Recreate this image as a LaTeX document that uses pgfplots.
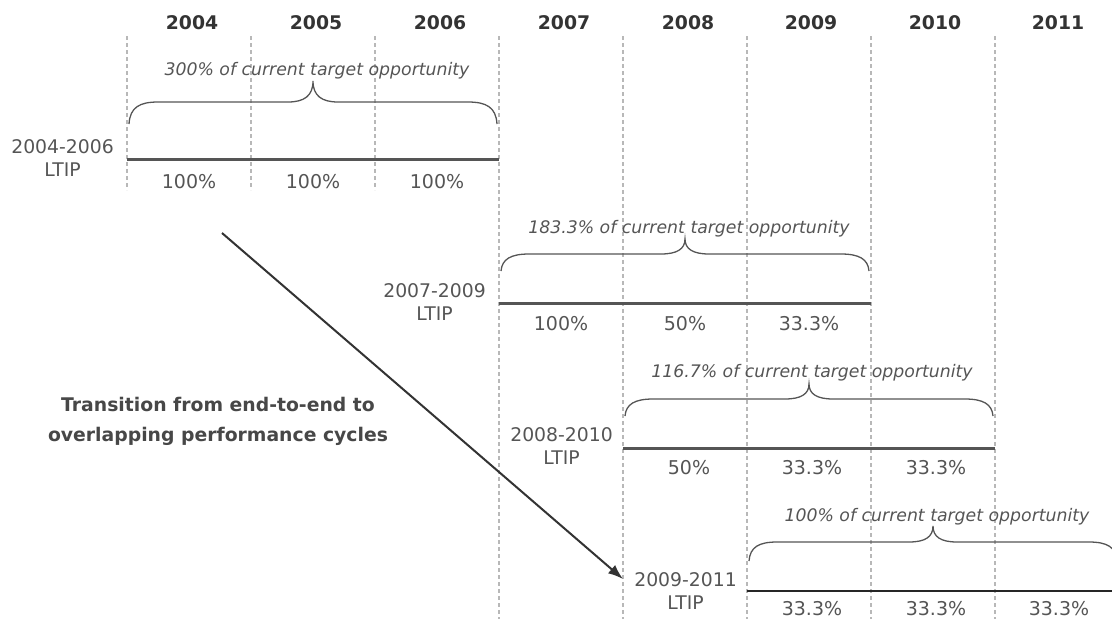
\documentclass[border=0pt]{standalone}
\usepackage{fontspec}
\setmainfont{DejaVu Sans}
\usepackage{pgfplots}
\pgfplotsset{compat=1.18}
\usetikzlibrary{arrows.meta}
\definecolor{txt}{HTML}{555555}
\definecolor{yr}{HTML}{333333}
\definecolor{gridc}{HTML}{B8B8B8}
\definecolor{barc}{HTML}{555555}
\definecolor{bracec}{HTML}{555555}
\tikzset{
  vgrid/.style={gridc,line width=1.8pt,dash pattern=on 4pt off 3pt},
  bar/.style={barc,line width=3pt},
  brc/.style={bracec,line width=1.3pt},
  yl/.style={font=\bfseries\fontsize{18.8}{20}\selectfont,text=yr},
  pct/.style={font=\fontsize{19}{20}\selectfont,text=txt},
  rl/.style={font=\fontsize{18.8}{23}\selectfont,text=txt,align=center,anchor=east,inner sep=0pt},
  it/.style={font=\itshape\fontsize{17.3}{20}\selectfont,text=txt}}
\begin{document}
\begin{tikzpicture}
\begin{axis}[width=1112pt,height=619pt,scale only axis,
  xmin=0,xmax=1112,ymin=0,ymax=619,y dir=reverse,
  axis lines=none,clip=false,no markers]
% vertical dashed separators
\addplot[vgrid] coordinates {(127,36) (127,190)};
\addplot[vgrid] coordinates {(251,36) (251,190)};
\addplot[vgrid] coordinates {(375,36) (375,190)};
\addplot[vgrid] coordinates {(499,36) (499,619)};
\addplot[vgrid] coordinates {(623,36) (623,619)};
\addplot[vgrid] coordinates {(747,36) (747,619)};
\addplot[vgrid] coordinates {(871,36) (871,619)};
\addplot[vgrid] coordinates {(995,36) (995,619)};
% performance-cycle lines
\addplot[bar] coordinates {(127,159) (499,159)};
\addplot[bar] coordinates {(499,303) (871,303)};
\addplot[bar] coordinates {(623,448) (995,448)};
\addplot[color=black!85,line width=2.2pt] coordinates {(747,591) (1112,591)};
% arrow
\addplot[color=yr,line width=2pt,-{Latex[length=15pt,width=11pt]}] coordinates {(222,233) (623,579)};
% years
\node[yl] at (axis cs:192,23) {2004};
\node[yl] at (axis cs:316,23) {2005};
\node[yl] at (axis cs:440,23) {2006};
\node[yl] at (axis cs:564,23) {2007};
\node[yl] at (axis cs:688,23) {2008};
\node[yl] at (axis cs:811,23) {2009};
\node[yl] at (axis cs:935,23) {2010};
\node[yl] at (axis cs:1058,23) {2011};
% braces
\draw[brc] (axis cs:129,124) .. controls (axis cs:130,107) and (axis cs:140,102) .. (axis cs:158,102)
  -- (axis cs:288,102) .. controls (axis cs:304,102) and (axis cs:313,96) .. (axis cs:313,81)
  .. controls (axis cs:313,96) and (axis cs:322,102) .. (axis cs:338,102)
  -- (axis cs:468,102) .. controls (axis cs:486,102) and (axis cs:496,107) .. (axis cs:497,124);
\draw[brc] (axis cs:501,271) .. controls (axis cs:502,259) and (axis cs:511,254) .. (axis cs:529,254)
  -- (axis cs:661,254) .. controls (axis cs:677,254) and (axis cs:685,249) .. (axis cs:685,239)
  .. controls (axis cs:685,249) and (axis cs:693,254) .. (axis cs:709,254)
  -- (axis cs:841,254) .. controls (axis cs:859,254) and (axis cs:868,259) .. (axis cs:869,271);
\draw[brc] (axis cs:625,416) .. controls (axis cs:626,404) and (axis cs:635,399) .. (axis cs:653,399)
  -- (axis cs:785,399) .. controls (axis cs:801,399) and (axis cs:809,394) .. (axis cs:809,384)
  .. controls (axis cs:809,394) and (axis cs:817,399) .. (axis cs:833,399)
  -- (axis cs:965,399) .. controls (axis cs:983,399) and (axis cs:992,404) .. (axis cs:993,416);
\draw[brc] (axis cs:749,561) .. controls (axis cs:750,547) and (axis cs:759,542) .. (axis cs:777,542)
  -- (axis cs:909,542) .. controls (axis cs:925,542) and (axis cs:933,537) .. (axis cs:933,526)
  .. controls (axis cs:933,537) and (axis cs:941,542) .. (axis cs:957,542)
  -- (axis cs:1089,542) .. controls (axis cs:1107,542) and (axis cs:1116,547) .. (axis cs:1117,561);
% brace texts
\node[it] at (axis cs:317,71) {300\% of current target opportunity};
\node[it] at (axis cs:689,229) {183.3\% of current target opportunity};
\node[it] at (axis cs:812,373) {116.7\% of current target opportunity};
\node[it] at (axis cs:937,517) {100\% of current target opportunity};
% row labels
\node[rl] at (axis cs:114,158.5) {2004-2006\\LTIP};
\node[rl] at (axis cs:486,302.5) {2007-2009\\LTIP};
\node[rl] at (axis cs:613,446.5) {2008-2010\\LTIP};
\node[rl] at (axis cs:737,591.5) {2009-2011\\LTIP};
% percentages
\node[pct] at (axis cs:189,182) {100\%};
\node[pct] at (axis cs:313,182) {100\%};
\node[pct] at (axis cs:437,182) {100\%};
\node[pct] at (axis cs:561,324) {100\%};
\node[pct] at (axis cs:685,324) {50\%};
\node[pct] at (axis cs:809,324) {33.3\%};
\node[pct] at (axis cs:689,468) {50\%};
\node[pct] at (axis cs:812,468) {33.3\%};
\node[pct] at (axis cs:936,468) {33.3\%};
\node[pct] at (axis cs:812,609) {33.3\%};
\node[pct] at (axis cs:936,609) {33.3\%};
\node[pct] at (axis cs:1059,609) {33.3\%};
% transition text
\node[font=\bfseries\fontsize{18.8}{30}\selectfont,text=yr!90,align=center] at (axis cs:218,421)
  {Transition from end-to-end to\\overlapping performance cycles};
\end{axis}
\pgfresetboundingbox
\useasboundingbox (0,0) rectangle (1112pt,619pt);
\end{tikzpicture}
\end{document}
